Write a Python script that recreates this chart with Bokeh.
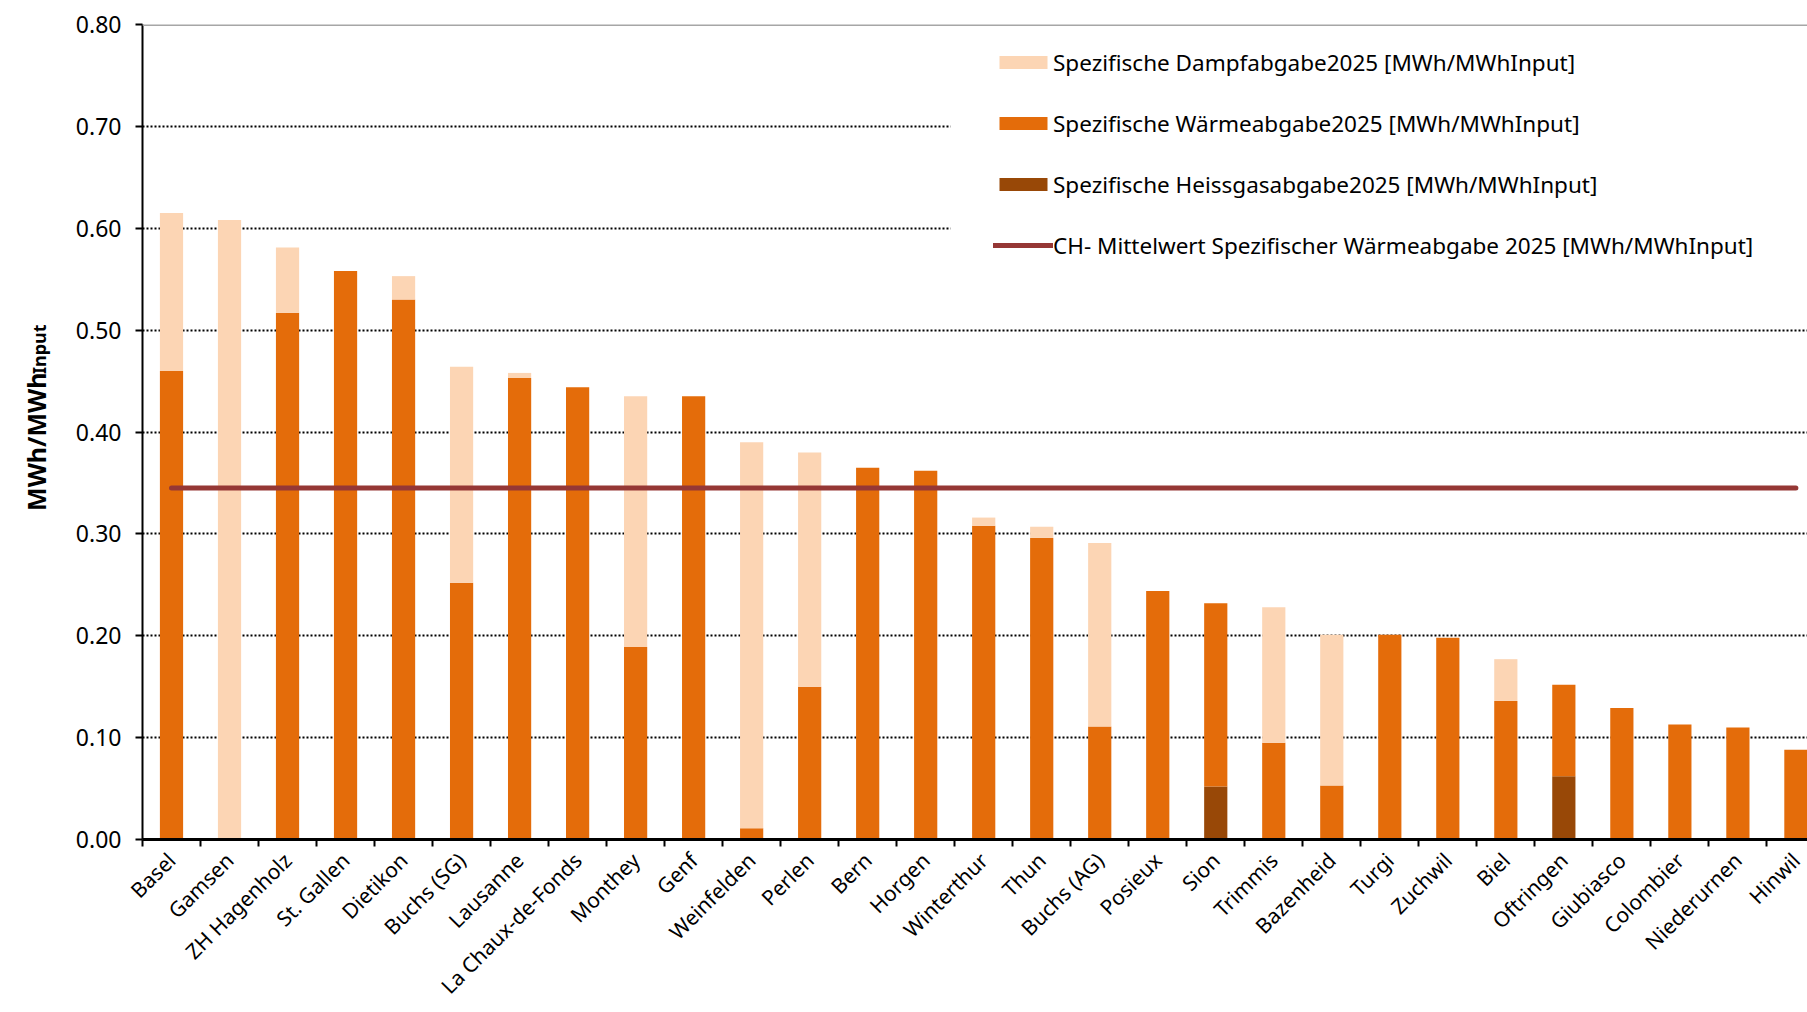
import math
from bokeh.plotting import figure
from bokeh.layouts import row
from bokeh.models import (Range1d, FixedTicker, PrintfTickFormatter, Span,
                          Legend, LegendItem, BoxAnnotation, ColumnDataSource)
from bokeh.core.properties import value
from bokeh.embed import file_html
from bokeh.resources import INLINE

categories = ["Basel", "Gamsen", "ZH Hagenholz", "St. Gallen", "Dietikon", "Buchs (SG)",
              "Lausanne", "La Chaux-de-Fonds", "Monthey", "Genf", "Weinfelden", "Perlen",
              "Bern", "Horgen", "Winterthur", "Thun", "Buchs (AG)", "Posieux", "Sion",
              "Trimmis", "Bazenheid", "Turgi", "Zuchwil", "Biel", "Oftringen", "Giubiasco",
              "Colombier", "Niederurnen", "Hinwil"]
heissgas = [0, 0, 0, 0, 0, 0, 0, 0, 0, 0, 0, 0, 0, 0, 0, 0, 0, 0, 0.052,
            0, 0, 0, 0, 0, 0.062, 0, 0, 0, 0]
waerme = [0.460, 0.000, 0.517, 0.558, 0.530, 0.252, 0.453, 0.444, 0.189, 0.435, 0.011, 0.150,
          0.365, 0.362, 0.308, 0.296, 0.111, 0.244, 0.180, 0.095, 0.053, 0.201, 0.198, 0.136,
          0.090, 0.129, 0.113, 0.110, 0.088]
dampf = [0.155, 0.608, 0.064, 0.000, 0.023, 0.212, 0.005, 0.000, 0.246, 0.000, 0.379, 0.230,
         0.000, 0.000, 0.008, 0.011, 0.180, 0.000, 0.000, 0.133, 0.148, 0.000, 0.000, 0.041,
         0.000, 0.000, 0.000, 0.000, 0.000]
ch_mittelwert = 0.345
y_ticks = [0.0, 0.1, 0.2, 0.3, 0.4, 0.5, 0.6, 0.7, 0.8]
y_title = "MWh/MWh"
y_title_sub = "Input"

FONT = "Noto Sans"
C_DAMPF = "#FCD5B4"
C_WAERME = "#E46C0A"
C_HEISS = "#984807"
C_LINE = "#953735"

W, H = 1807, 1012
FRAME_TOP, FRAME_BOTTOM = 24, 840
LEFT_W = 60

n = len(categories)
centers = [i + 0.5 for i in range(n)]
bounds = list(range(n))

src = ColumnDataSource(dict(x=centers, heiss=heissgas, waerme=waerme, dampf=dampf))

p = figure(width=W - LEFT_W, height=H, output_backend="svg", toolbar_location=None,
           x_range=Range1d(0, 28.7), y_range=Range1d(0, 0.8),
           min_border_left=142 - LEFT_W, min_border_right=0, min_border_top=FRAME_TOP,
           min_border_bottom=H - FRAME_BOTTOM)
p.outline_line_color = None
p.background_fill_color = "white"
p.border_fill_color = "white"

rs = p.vbar_stack(["heiss", "waerme", "dampf"], x="x", width=0.4,
                  color=[C_HEISS, C_WAERME, C_DAMPF], line_color=None, source=src)

line_r = p.line(x=[centers[0], centers[-1]], y=[ch_mittelwert, ch_mittelwert],
                line_color=C_LINE, line_width=5, line_cap="round")

# y axis
yax = p.yaxis[0]
yax.ticker = FixedTicker(ticks=y_ticks)
yax.formatter = PrintfTickFormatter(format="%.2f")
yax.major_tick_out = 7
yax.major_tick_in = 0
yax.minor_tick_out = 0
yax.axis_line_width = 2
yax.major_tick_line_width = 2
yax.axis_line_color = "black"
yax.major_label_text_font = FONT
yax.major_label_text_font_size = "23px"
yax.major_label_text_color = "black"
yax.major_label_standoff = 14

# x axis: labels at centers, ticks at category boundaries
xax = p.xaxis[0]
xax.ticker = FixedTicker(ticks=centers, minor_ticks=bounds)
xax.major_label_overrides = {c: name for c, name in zip(centers, categories)}
xax.major_tick_out = 0
xax.major_tick_in = 0
xax.minor_tick_out = 7
xax.minor_tick_in = 0
xax.minor_tick_line_width = 2
xax.minor_tick_line_color = "black"
xax.axis_line_width = 3
xax.axis_line_color = "black"
xax.major_label_orientation = math.pi / 4
xax.major_label_text_font = FONT
xax.major_label_text_font_size = "21px"
xax.major_label_text_color = "black"
xax.major_label_standoff = 10

p.xgrid.visible = False
p.ygrid.ticker = FixedTicker(ticks=y_ticks[1:-1])
p.ygrid.grid_line_color = "black"
p.ygrid.grid_line_dash = "2 2"
p.ygrid.grid_line_width = 2

p.add_layout(Span(location=y_ticks[-1], dimension="width", line_color="#a6a6a6", line_width=3))

# legend background (white box hiding the grid behind the legend)
p.add_layout(BoxAnnotation(left=808, top=800, bottom=565, left_units="screen",
                           top_units="screen", bottom_units="screen",
                           fill_color="white", fill_alpha=1, line_color=None))

legend = Legend(items=[
    LegendItem(label="Spezifische Dampfabgabe2025 [MWh/MWhInput]", renderers=[rs[2]]),
    LegendItem(label="Spezifische Wärmeabgabe2025 [MWh/MWhInput]", renderers=[rs[1]]),
    LegendItem(label="Spezifische Heissgasabgabe2025 [MWh/MWhInput]", renderers=[rs[0]]),
    LegendItem(label="CH- Mittelwert Spezifischer Wärmeabgabe 2025 [MWh/MWhInput]",
               renderers=[line_r]),
], location=(851, 577))
legend.background_fill_alpha = 0
legend.border_line_color = None
legend.padding = 0
legend.margin = 0
legend.glyph_width = 60
legend.glyph_height = 16
legend.label_height = 34
legend.label_standoff = 0
legend.spacing = 27
legend.label_text_font = FONT
legend.label_text_font_size = "22.5px"
legend.label_text_color = "black"
p.add_layout(legend)

# narrow strip on the left carrying the y-axis title with its subscript;
# its frame is aligned with the main frame, so the y range maps to page pixels
pl = figure(width=LEFT_W, height=H, output_backend="svg", toolbar_location=None,
            x_range=Range1d(0, LEFT_W), y_range=Range1d(H - FRAME_BOTTOM, H - FRAME_TOP),
            x_axis_type=None, y_axis_type=None,
            min_border_left=0, min_border_right=0, min_border_top=FRAME_TOP,
            min_border_bottom=H - FRAME_BOTTOM)
pl.outline_line_color = None
pl.xgrid.visible = False
pl.ygrid.visible = False
pl.text(x=[35], y=[H - 511], text=[y_title], angle=math.pi / 2,
        text_align="left", text_baseline="alphabetic", text_font=value(FONT),
        text_font_style="bold", text_font_size="25px", text_color="black")
pl.text(x=[38], y=[H - 374], text=[y_title_sub], angle=math.pi / 2,
        text_align="left", text_baseline="alphabetic", text_font=value(FONT),
        text_font_style="bold", text_font_size="18px", text_color="black")

layout = row(pl, p, spacing=0)
open("out.html", "w").write(file_html(layout, INLINE))
